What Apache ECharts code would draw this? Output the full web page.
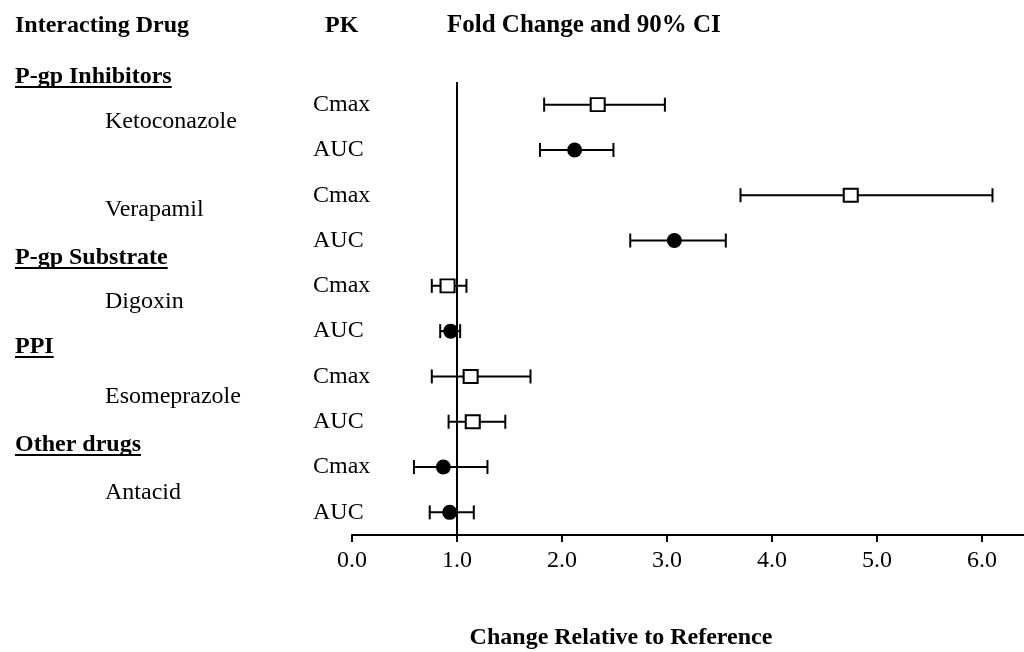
<!DOCTYPE html>
<html><head><meta charset="utf-8">
<script src="https://cdn.jsdelivr.net/npm/echarts@6/dist/echarts.min.js"></script>
<style>html,body{margin:0;padding:0;background:#fff}#c{width:1024px;height:652px}</style>
</head><body><div id="c"></div>
<script>
// ---- data ----
const pkLabels = ['Cmax','AUC','Cmax','AUC','Cmax','AUC','Cmax','AUC','Cmax','AUC'];
const estimate = [2.34, 2.12, 4.75, 3.07, 0.91, 0.94, 1.13, 1.15, 0.87, 0.93];
const ciLow    = [1.83, 1.79, 3.70, 2.65, 0.76, 0.84, 0.76, 0.92, 0.59, 0.74];
const ciHigh   = [2.98, 2.49, 6.10, 3.56, 1.09, 1.03, 1.70, 1.46, 1.29, 1.16];
const markerType = ['open','filled','open','filled','open','filled','open','open','filled','filled'];
const tickValues = [0, 1, 2, 3, 4, 5, 6];
const groupNames = ['P-gp Inhibitors', 'P-gp Substrate', 'PPI', 'Other drugs'];
const drugNames = ['Ketoconazole', 'Verapamil', 'Digoxin', 'Esomeprazole', 'Antacid'];
const refValue = 1;

// ---- layout / style ----
const FONT = '"Liberation Serif", "Times New Roman", serif';
const FS = 24;
const INK = '#000';
const groupY = [77, 258, 347, 445];
const drugY = [122, 210, 302, 397, 493];

const mctx = document.createElement('canvas').getContext('2d');
function textW(t, bold) { mctx.font = (bold ? 'bold ' : '') + FS + 'px ' + FONT; return mctx.measureText(t).width; }

const graphics = [];
function addText(t, x, y, bold, align, size) {
  graphics.push({ type: 'text', x: x, y: y, style: { text: t, fill: INK, font: (bold ? 'bold ' : '') + (size || FS) + 'px ' + FONT, textAlign: align || 'left', textVerticalAlign: 'middle' } });
}
addText('Interacting Drug', 15, 26, true);
addText('PK', 325, 26, true);
addText('Fold Change and 90% CI', 447, 26, true, 'left', 25);
groupNames.forEach((g, i) => {
  addText(g, 15, groupY[i], true);
  const w = textW(g, true);
  graphics.push({ type: 'line', shape: { x1: 15, y1: groupY[i] + 10, x2: 15 + w, y2: groupY[i] + 10 }, style: { stroke: INK, lineWidth: 2 } });
});
drugNames.forEach((d, i) => addText(d, 105, drugY[i], false));
addText('Change Relative to Reference', 621, 638, true, 'center');

const errData = pkLabels.map((_, i) => [ciLow[i], ciHigh[i], i]);
const openData = [], filledData = [];
estimate.forEach((v, i) => { (markerType[i] === 'open' ? openData : filledData).push([v, i]); });

const chart = echarts.init(document.getElementById('c'), null, { renderer: 'canvas' });
chart.setOption({
  animation: false,
  backgroundColor: '#fff',
  grid: { left: 352, right: 0, top: 82, bottom: 117, containLabel: false },
  xAxis: {
    type: 'value', min: 0, max: 6.4, interval: 1,
    axisLine: { show: true, lineStyle: { color: INK, width: 2 } },
    axisTick: { show: true, length: 7, lineStyle: { color: INK, width: 2 }, customValues: tickValues },
    axisLabel: { customValues: tickValues, formatter: v => v.toFixed(1), color: INK, fontFamily: FONT, fontSize: FS, margin: 14 },
    splitLine: { show: false }
  },
  yAxis: {
    type: 'category', inverse: true, data: pkLabels, boundaryGap: true,
    axisLine: { show: false }, axisTick: { show: false }, splitLine: { show: false },
    axisLabel: { align: 'left', margin: 39, color: INK, fontFamily: FONT, fontSize: FS }
  },
  graphic: graphics,
  series: [
    {
      type: 'custom', name: 'CI', clip: false, z: 2,
      dimensions: [{ name: 'lo', type: 'float' }, { name: 'hi', type: 'float' }, { name: 'row', type: 'ordinal' }],
      data: errData,
      encode: { x: ['lo', 'hi'], y: 'row' },
      renderItem: function (params, api) {
        const y = api.value(2);
        const p1 = api.coord([api.value(0), y]);
        const p2 = api.coord([api.value(1), y]);
        const st = { stroke: INK, lineWidth: 2 };
        const h = 7;
        return { type: 'group', children: [
          { type: 'line', shape: { x1: p1[0], y1: p1[1], x2: p2[0], y2: p2[1] }, style: st },
          { type: 'line', shape: { x1: p1[0], y1: p1[1] - h, x2: p1[0], y2: p1[1] + h }, style: st },
          { type: 'line', shape: { x1: p2[0], y1: p2[1] - h, x2: p2[0], y2: p2[1] + h }, style: st }
        ]};
      }
    },
    {
      type: 'scatter', name: 'open', z: 3, symbol: 'rect', symbolSize: [14, 13],
      itemStyle: { color: '#fff', borderColor: INK, borderWidth: 2, opacity: 1 },
      data: openData,
      markLine: {
        silent: true, symbol: 'none', label: { show: false }, z: 1,
        lineStyle: { color: INK, width: 2, type: 'solid' },
        data: [{ xAxis: refValue }]
      }
    },
    {
      type: 'scatter', name: 'filled', z: 3, symbol: 'circle', symbolSize: 15,
      itemStyle: { color: INK, opacity: 1 },
      data: filledData
    }
  ]
});
</script>
</body></html>
